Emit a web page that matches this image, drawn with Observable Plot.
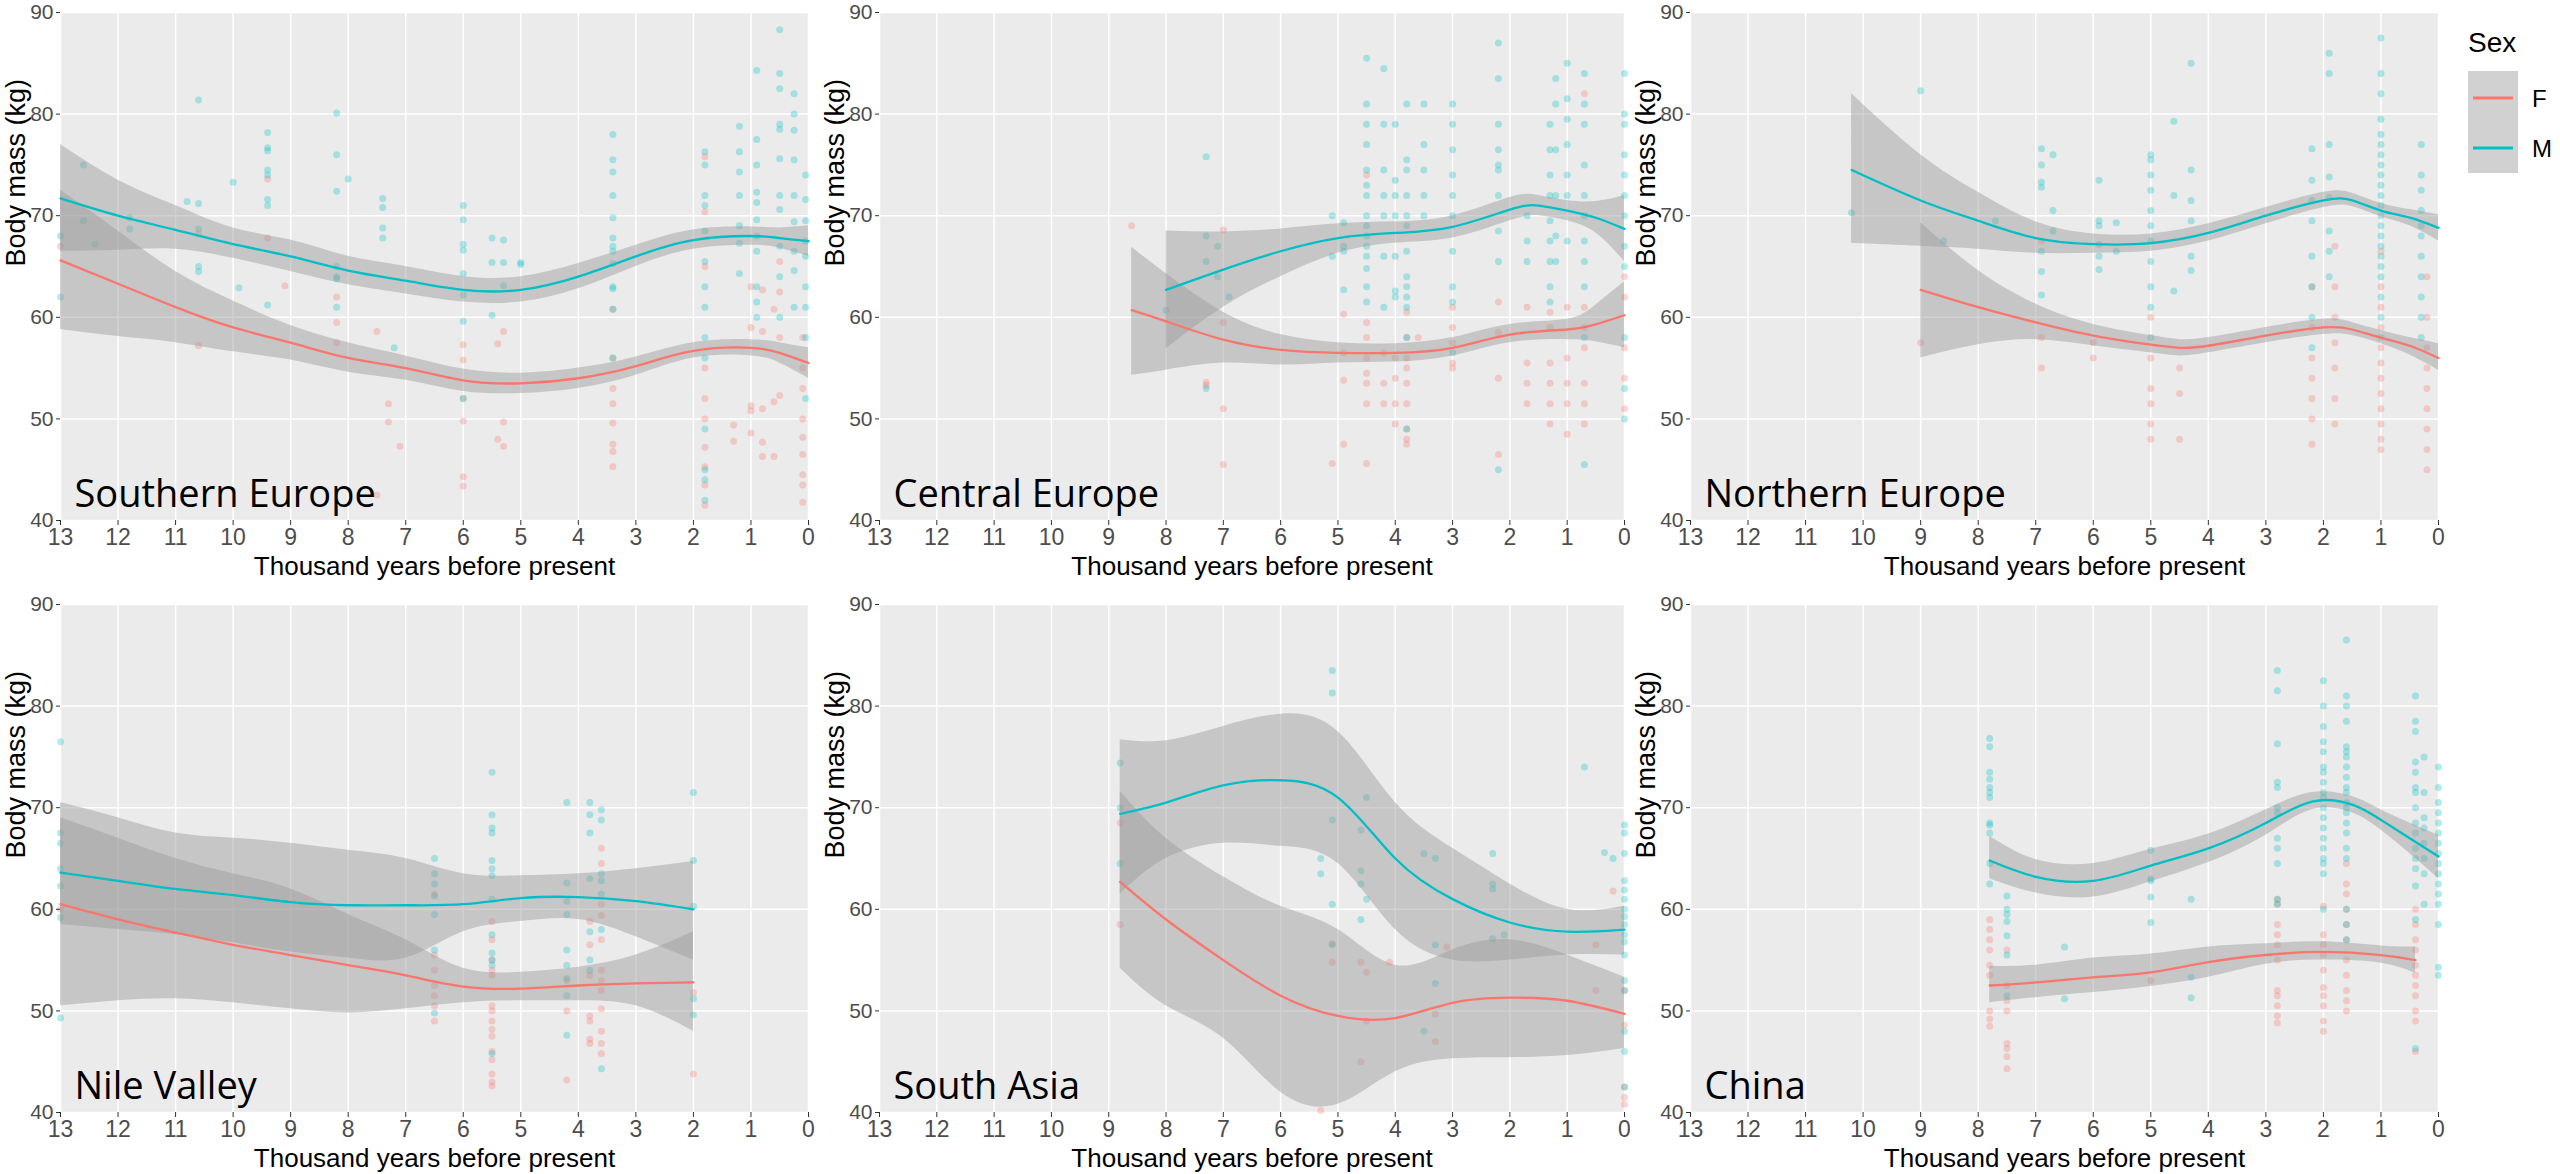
<!DOCTYPE html>
<html>
<head>
<meta charset="utf-8">
<script src="https://cdn.jsdelivr.net/npm/d3@7"></script>
<script src="https://cdn.jsdelivr.net/npm/@observablehq/plot@0.6"></script>
<style>
  body { margin: 0; background: #fff; width: 2560px; height: 1174px; position: relative; overflow: hidden; }
  .panel { position: absolute; }
  #legend { position: absolute; left: 2466px; top: 24px; font-family: "Liberation Sans", sans-serif; }
</style>
</head>
<body>
<div id="chart"></div>
<div id="legend"></div>
<script>
// tick labels
const xTicks = d3.range(0, 14)
const yTicks = [40, 50, 60, 70, 80, 90]
const sexes = ["F", "M"]
const regions = ["Southern Europe", "Central Europe", "Northern Europe", "Nile Valley", "South Asia", "China"]

// points: [thousand years BP, [body masses...]]
const seM = [[13,[68,62]],[12.6,[75,69.5]],[12.4,[67.2]],[11.8,[68.7,69.8]],[10.8,[71.4]],[10.6,[81.4,71.2,68.7,65,64.5]],
  [10,[73.3]],[9.9,[62.9]],[9.4,[78.2,76.7,76.4,74.5,74,71.6,71,61.2]],[8.2,[80.1,76,72.4,65,64,63.8,61]],[8,[73.6]],
  [7.4,[71.7,70.8,68.8,67.8]],[7.2,[57]],[6,[71,69.6,67.2,66.6,64.3,62.2,59.6,52]],[5.5,[67.8,65.4,60.2]],[5.3,[67.6,65.4,63.1]],
  [5,[65.4,65.2]],[3.4,[78,75.5,74.3,72,69.8,67.8,67,66.5,65.3,63,62.8,60.8,56]],
  [1.8,[76.3,75,72,71,68.5,65.5,63,61,58,56,49,45,44,42]],[1.2,[78.8,76.3,74.3,72,69,67.3,64.3]],
  [0.9,[84.3,77.5,75,72.3,71.3,69.6,68,66.5,63,61.5,60]],[0.5,[88.3,84,82.5,79,78.5,75.6,72,70.6,67,64,60]],
  [0.25,[82,80,78.4,75.5,72,69.4,66.5,64.6,61]],[0.05,[74,71.6,69.5,67.5,66,63,61,58,52]]]
const seF = [[13,[67]],[10.6,[68.2,57.2]],[9.4,[73.6,67.8]],[9.1,[63.1]],[8.2,[62,59.5,57.5]],[7.5,[58.6,42.5]],[7.3,[51.5,49.7]],
  [7.1,[47.3]],[6,[57.3,55.8,52,49.8,44.3,43.4]],[5.4,[57.4,48]],[5.3,[58.6,49.7,47.3]],[3.4,[60.8,56,53,51.5,49.6,47.5,46.8,45.3]],
  [1.8,[75.8,70.4,65,55,52,50,47.2,45.3,43.5,41.5]],[1.3,[47.8,49.4]],[1,[63,59,51.3,48.6,50.8]],[0.8,[62.7,58.6,51,47.7,46.3]],
  [0.6,[60.8,46.3,51.7]],[0.5,[65.5,62.5,58,52.3]],[0.1,[58,55,53,50,48.2,46.5,44.5,43.5,41.8]]]
const ceM = [[8,[60.7]],[7.3,[75.8,68,65.5,53]],[7.1,[67,64]],[6.9,[62]],[5.1,[70,66]],[4.9,[69.3,67,66.5,62.7]],
  [4.5,[85.5,81,79,77,74.5,73,72,70,69,68,67,66,64.8,63,61.5]],[4.2,[84.5,79,74.5,72,70,66,61]],[4,[79,73.5,72,70,66,62.6,62]],
  [3.8,[81,75.5,74.5,72,70,69,66.5,64,63,62,61,58,49]],[3.5,[81,77,74.5,72,70]],[3,[81,79,76.5,74,72,70,66.5,63,61.5,56.5]],
  [2.2,[87,83.5,79,76.5,75,74.5,72,68.5,65.5,45]],[1.7,[70,67.5,65.5]],[1.3,[79,76.5,74,72,69.5,67.5,65.5,63,61.5]],
  [1.2,[83.5,81,76.5,72,68,65.5]],[1,[85,81.5,79.5,77,74,72,67.5]],[0.7,[84,81,79,75,72,70,67.5,65.5,63,58,45.5]],
  [0,[84,80,79,76,74,72,70,67,65,58,53,50]]]
const ceF = [[8.6,[69]],[7.3,[53.3,53.6]],[7,[68.6,59.5,51,45.5]],[5.1,[45.6]],[4.9,[60.3,56.5,53.8,47.5]],
  [4.5,[74,59.5,58,56,54.5,53.5,51.5,45.6]],[4.2,[56.5,53.5,51.5]],[4,[56,54,51.5,49.5]],[3.8,[60.5,58,56,55,53.5,51.5,49,48,47.5]],
  [3.6,[58]],[3,[61,59,57.5,55.5,55]],[2.2,[61.5,58.5,54,46.5]],[1.7,[61,55.5,53.5,51.5]],[1.3,[60.5,59,55.5,53.5,51.5,49.5]],
  [1,[61,56,53.5,51.5,48.5]],[0.7,[82,61,59,57,53.5,51.5,49.5]],[0,[64,62,57,54,51]]]
const neM = [[10.2,[70.3]],[9,[82.3]],[8.6,[67.5]],[7.7,[69.5]],[6.9,[76.6,75,73.3,72.8,66.5,64.5,62.2]],[6.7,[76,70.5,68.5]],
  [5.9,[73.5,69.5,69,67.2,66,64.7]],[5.6,[69.3,66.5]],[5,[76,75.5,74,72.5,70.5,69,67.5,65.5,63,61,58]],[4.6,[79.3,72,62.6]],
  [4.3,[85,74.5,71.5,69.5,66,64.6]],[2.2,[76.6,73.5,71.5,69.5,66,63,60,57]],[1.9,[86,84,77,73.8,71.8,68.5,66.5,64]],
  [1,[87.5,84,82,79.5,78,77,76,75,74,73,72,71,70,69,68,67,66,65,64,62,60,58]],[0.3,[77,74,72.5,70.5,69,68,66,64,62,60,58]]]
const neF = [[9,[57.5]],[6.9,[67.5,58,55]],[6,[57.5,56]],[5,[60,56,53,51.5,49.5,48]],[4.5,[55,52.5,48]],
  [2.2,[63,59,56,54,52,50,47.5]],[1.8,[67,63,60,57.5,55,52,49.5]],[1,[66.5,63,61,59,57,55.5,54,52.5,51,49.5,48,47]],
  [0.2,[64,60,57,55,53,51,49,47,45]]]
const nvM = [[13,[76.5,67.5,66.5,64,62.3,59.2,49.3]],[6.5,[65,63.5,62.5,61.3,59.5,56,49.8]],
  [5.5,[73.5,69.3,68,67.5,64.8,64,63.3,61,57.5,55.7,55,54.5,45.8]],[4.2,[70.5,62.6,60.8,59.5,56,54.5,53.2,51.5,47.6]],
  [3.8,[70.5,69.3,67.5,63,57.8,55,54]],[3.6,[69.8,68.8,63.5,62.8,61.5,58,44.3]],[2,[71.5,64.8,60.3,51.2,49.6]]]
const nvF = [[13,[60]],[6.5,[61.5,55.5,54,52.5,51.5,50.5,49]],[5.5,[58.8,57,55,54,53.5,50.5,50,49,48.2,47.5,46,45.2,43.8,43,42.6]],
  [4.2,[53,50,43.2]],[3.8,[58.8,56.5,53.5,49.5,49,47.2,46.8]],[3.6,[66,64.5,60.5,59.4,57,54,53,52,50.2,48,46.8,45.8]],[2,[51.8,43.8]]]
const saM = [[8.8,[74.4,70,64.5]],[5.3,[65,63.5]],[5.1,[83.5,81.3,68.8,60.5,56.5]],[4.6,[67.8,63.8,62.5,59]],[4.5,[71,61]],
  [3.5,[65.5,48]],[3.3,[65,56.5,52.7]],[2.3,[65.5,62.5,62,57.1]],[2.1,[57.5]],[0.7,[74]],[0.35,[65.6]],[0.2,[65]],
  [0,[68.3,67.5,65.5,62.8,61.9,61,60,59.3,58.5,57.5,56.8,55.5,53,52,48,46,42.5]]]
const saF = [[8.8,[68.5,58.5]],[5.3,[40.2]],[5.1,[56.6,54.8]],[4.6,[54.8,45]],[4.5,[53.8,49]],[4.1,[54.8]],[3.3,[49.7,47]],
  [3.1,[56.3]],[0.5,[56.5,52]],[0.2,[61.8]],[0,[52,48.6,42.5,41.5,40.8]]]
const chM = [[7.8,[76.8,76,73.5,72.8,72,71.5,71,68.5,68.3,67.5,64.5,62.5]],[7.5,[61.3,60,59.5,58.8,57.4,55.5,51.5]],[6.5,[56.3,51.2]],
  [5,[65.8,63,62.8,61.2,58.7]],[4.3,[61,53.3,51.3]],[2.8,[83.5,81.5,76.3,72.5,72,70,69.5,67,66,64.5,61,60.5]],
  [2,[82.5,80,78,76.5,75.5,74,73.5,72.5,71.5,71,70,69,68,67,66,65,64.5,63.5,60]],
  [1.6,[86.5,81,80,78.5,76,75.5,75,74,73,72,71.5,70.5,70,69.5,68.5,67.5,66,65,60,58.5,57]],
  [0.4,[81,78.5,77.5,74.5,73.5,72,71.5,70,68.5,67.5,66,65,64,62.3,59,46.3]],[0.25,[75,71.5,69,68,66.5,65,63.5,60.5]],
  [0,[74,72,70.5,69.5,68.5,67.5,66.5,65.5,64.5,63.5,62.5,61.5,60.5,58.5,54.3,53.5]]]
const chF = [[7.8,[59,58,57,56,54.5,53.5,50,49.2,48.5]],[7.5,[56,52.5,51,50,46.8,46.3,45.5,44.3]],[5,[53]],
  [2.8,[61,60.5,58.5,57.5,56.5,55,52,51.5,50.5,49.5,48.8]],[2,[60.3,57.5,56.5,55.5,54,52.3,51.5,50.5,49,48]],
  [1.6,[64.5,62.5,61.5,60,58.5,57,55,53.5,52,51,50]],[0.4,[60,58.5,57,56,54.5,53.5,52.5,51.5,50,49,46]]]

// loess fits: [x, fit, lower, upper]
const seFitM = [[13,71.7,66.5,77],[12,70,66.6,73.5],[11,68.6,66.7,71],[10,67.2,65.8,68.8],[9,66,64.5,67.6],[8,64.6,63.2,66],
  [7,63.6,62.3,65],[6,62.7,61.5,64],[5,62.7,61.5,64],[4,64,62.8,65.3],[3,66,65,67.1],[2,67.6,66.7,68.6],[1,68,67.1,68.9],[0.5,67.8,66.8,68.8],[0,67.5,66,69]]
const seFitF = [[13,65.6,58.8,72.5],[12,63.3,58.1,68.5],[11,61,57.5,64.5],[10,59,56.6,61.6],[9,57.5,55.8,59.2],[8,56,54.6,57.5],
  [7,55,53.8,56.2],[6,53.8,52.7,54.9],[5,53.5,52.5,54.5],[4,54,53,55],[3,55.2,54.3,56.1],[2,56.7,56,57.5],[1,57,56.2,57.8],[0.5,56.5,55.5,57.5],[0,55.5,54,57]]
const ceFitM = [[8,62.7,56.9,68.5],[7,64.7,61,68.4],[6,66.5,64,68.7],[5,67.8,66.3,69.2],[4,68.3,67.3,69.4],[3,68.9,67.8,70],
  [2,70.6,69.5,71.8],[1.5,71,70,72],[1,70.5,69.5,71.5],[0.5,69.8,68.3,71.4],[0,68.7,65.5,72]]
const ceFitF = [[8.6,60.7,54.3,66.9],[8,59.6,54.8,64.3],[7,57.8,55.5,60.5],[6,56.8,55.3,58.3],[5,56.5,55.5,57.5],[4,56.5,55.6,57.4],
  [3,57,56.2,58],[2,58.3,57.5,59.3],[1,58.8,57.8,59.8],[0.5,59.3,57.6,61.2],[0,60.2,57,63.5]]
const neFitM = [[10.2,74.5,67.3,82],[9,71.5,67,76],[8,69.5,66.7,72.3],[7,67.8,66.3,69.4],[6,67.2,66.3,68.2],[5,67.3,66.5,68.2],
  [4,68.3,67.5,69.2],[3,70,69.2,70.8],[2,71.5,70.8,72.3],[1.5,71.5,70.9,72.2],[1,70.5,69.9,71.2],[0.5,69.8,69,70.6],[0,68.8,67.5,70.1]]
const neFitF = [[9,62.7,56,69.3],[8,61,57.3,64.6],[7,59.5,57.8,61.3],[6,58.2,57.2,59.3],[5,57.3,56.5,58.2],[4.5,57,56.2,57.8],
  [4,57.2,56.5,58],[3,58.2,57.5,59],[2,59,58.3,59.8],[1.5,58.8,58.2,59.5],[1,58,57.4,58.7],[0.5,57.2,56.3,58],[0,56,54.8,57.4]]
const nvFitM = [[13,63.6,58.5,70.5],[12,62.8,58,69],[11,62,57.5,67.5],[10,61.4,56.7,67],[9,60.7,55.8,66.5],[8,60.4,55.2,65.8],
  [7,60.4,55.2,65],[6,60.5,57.8,63.5],[5,61.1,58.8,63.3],[4,61.2,59,63.5],[3,60.8,57.3,64],[2,60,55,64.7]]
const nvFitF = [[13,60.5,50.5,69],[12,59,51,67],[11,57.7,51.2,65],[10,56.5,50.8,63.5],[9,55.5,50.2,62],[8,54.5,49.8,59.5],
  [7,53.5,50.2,57],[6,52.4,50.8,54.2],[5,52.2,51,53.8],[4,52.5,51,54.3],[3,52.7,50.5,55.5],[2,52.8,48,57.8]]
const saFitM = [[8.8,69.4,61.5,76.7],[8,70.5,65,76.6],[7,72.2,66.5,78],[6,72.7,66.2,79.2],[5,71,64.5,77.5],[4,65,58,70.5],
  [3,61,55,66],[2,58.7,55,62.5],[1,57.8,55.5,60],[0,58,55.5,60.3]]
const saFitF = [[8.8,62.7,54.2,71.6],[8,59,50.5,67],[7,55,47.3,63.2],[6,51.5,42,60.3],[5,49.5,40.8,58],[4,49.3,44,54.5],
  [3,50.8,45.3,56],[2,51.3,45.4,57],[1,51,45.6,55.5],[0,49.7,46.3,53.3]]
const chFitM = [[7.8,64.8,63,67.2],[7,63.2,61.6,64.9],[6,62.8,61.2,64.5],[5,64.3,62.7,65.9],[4,66,64.6,67.4],[3,68.5,67.3,69.8],
  [2.2,70.6,69.8,71.5],[1.5,70.3,69.5,71.1],[1,68.8,67.8,69.8],[0.5,67,65.5,68.5],[0,65.2,63,67.3]]
const chFitF = [[7.8,52.5,50.8,54.4],[7,52.8,51.3,54.5],[6,53.3,51.8,55.2],[5,53.8,52.4,55.6],[4,54.8,53.3,56.3],[3,55.5,54.6,56.6],
  [2,55.8,55,56.8],[1,55.5,54.7,56.4],[0.4,55,53.7,56.3]]

const colors = {F: "#F8766D", M: "#00BFC4"}
const pointSets = [[seF, seM], [ceF, ceM], [neF, neM], [nvF, nvM], [saF, saM], [chF, chM]]
const fitSets = [[seFitF, seFitM], [ceFitF, ceFitM], [neFitF, neFitM], [nvFitF, nvFitM], [saFitF, saFitM], [chFitF, chFitM]]

const plotLefts = [60, 879, 1690]
const plotWidths = [748, 745, 748]
const plotTops = [12, 604]
const plotH = 508
const mL = 60, mT = 12, mB = 62, mR = 12

const flat = (cols, sex) => cols.flatMap(([x, ys]) => ys.map(y => ({x, y, sex})))
const fitRows = (rows, sex) => rows.map(([x, y, lo, hi]) => ({x, y, lo, hi, sex}))

regions.forEach((region, i) => {
  const col = i % 3, row = Math.floor(i / 3)
  const pts = [...flat(pointSets[i][0], "F"), ...flat(pointSets[i][1], "M")]
  const fits = [...fitRows(fitSets[i][0], "F"), ...fitRows(fitSets[i][1], "M")]
  const chart = Plot.plot({
    width: mL + plotWidths[col] + mR,
    height: mT + plotH + mB,
    marginLeft: mL, marginTop: mT, marginBottom: mB, marginRight: mR,
    style: {fontFamily: "'Liberation Sans', sans-serif", fontSize: "22px", color: "#4d4d4d", background: "white"},
    x: {domain: [13, 0]},
    y: {domain: [40, 90]},
    marks: [
      Plot.frame({fill: "#EBEBEB"}),
      Plot.gridX(xTicks, {stroke: "white", strokeOpacity: 1, strokeWidth: 1.5}),
      Plot.gridY(yTicks, {stroke: "white", strokeOpacity: 1, strokeWidth: 1.5}),
      Plot.dot(pts, {x: "x", y: "y", r: 3.5, fill: d => colors[d.sex], fillOpacity: 0.3, stroke: null}),
      Plot.areaY(fits, {x: "x", y1: "lo", y2: "hi", z: "sex", fill: "#999999", fillOpacity: 0.45, curve: "natural"}),
      Plot.line(fits, {x: "x", y: "y", z: "sex", stroke: d => colors[d.sex], strokeWidth: 2.3, curve: "natural"}),
      Plot.axisX(xTicks, {tickSize: 5, tickPadding: 3, tickFormat: d => d, stroke: "#333", fill: "#4d4d4d", fontSize: 23,
        label: null}),
      Plot.axisY(yTicks, {tickSize: 4, tickPadding: 3, stroke: "#333", fill: "#4d4d4d", fontSize: 21, label: null}),
      Plot.text(["Thousand years before present"], {frameAnchor: "bottom", dy: 46, lineAnchor: "middle",
        fontSize: 26, fill: "black"}),
      Plot.text(["Body mass (kg)"], {frameAnchor: "left", dx: -44, rotate: -90, lineAnchor: "middle",
        fontSize: 27, fill: "black"}),
      Plot.text([region], {frameAnchor: "bottom-left", dx: 14, dy: -14, textAnchor: "start", lineAnchor: "bottom",
        fontSize: 38, fill: "black", fontFamily: "'Open Sans', 'Noto Sans', sans-serif"})
    ]
  })
  const div = d3.select("#chart").append("div").attr("class", "panel")
    .style("left", (plotLefts[col] - mL) + "px").style("top", (plotTops[row] - mT) + "px")
  div.append(() => chart)
})

// legend
const lg = d3.select("#legend").append("svg").attr("width", 90).attr("height", 160)
lg.append("text").attr("x", 2).attr("y", 28).attr("font-size", 28).text("Sex")
lg.append("rect").attr("x", 2).attr("y", 47).attr("width", 50).attr("height", 102).attr("fill", "#999999").attr("fill-opacity", 0.45)
sexes.forEach((s, k) => {
  const y = 74 + k * 50
  lg.append("line").attr("x1", 7).attr("x2", 47).attr("y1", y).attr("y2", y).attr("stroke", colors[s]).attr("stroke-width", 3)
  lg.append("text").attr("x", 66).attr("y", y + 9).attr("font-size", 24).text(s)
})
</script>
</body>
</html>
